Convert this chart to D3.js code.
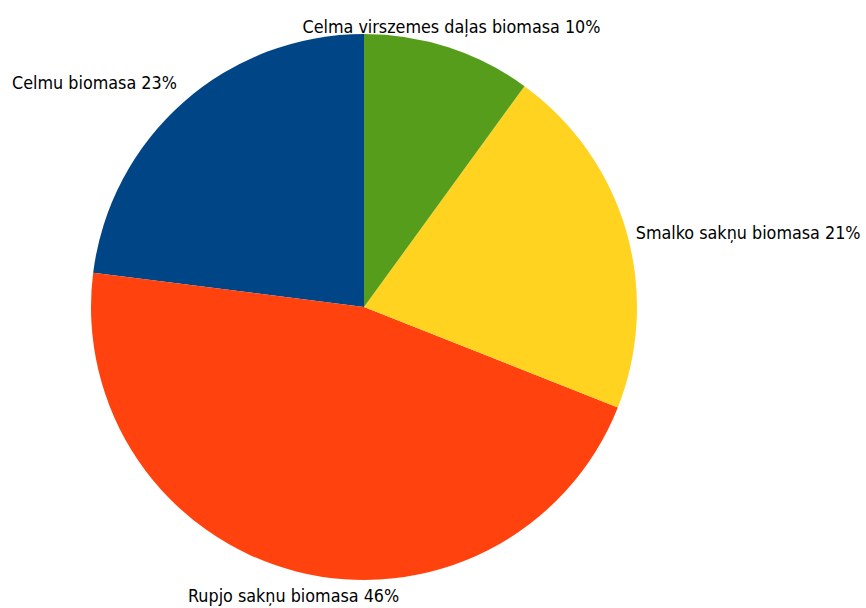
<!DOCTYPE html>
<html>
<head>
<meta charset="utf-8">
<script src="https://cdn.jsdelivr.net/npm/d3@7"></script>
<style>
  html, body { margin: 0; padding: 0; background: #fff; }
  svg text { font-family: "Liberation Sans Narrow", "DejaVu Sans Condensed", sans-serif; font-size: 17.8px; fill: #000; }
</style>
</head>
<body>
<svg id="chart" width="866" height="608"></svg>
<script>
// Biomass shares, in drawing order (counter-clockwise from 12 o'clock)
const categories = ["Celmu biomasa", "Rupjo sakņu biomasa", "Smalko sakņu biomasa", "Celma virszemes daļas biomasa"];
const values = [23, 46, 21, 10];
const colors = ["#004586", "#ff420e", "#ffd320", "#579d1c"];

const svg = d3.select("#chart");
const cx = 364, cy = 307, radius = 273;
const g = svg.append("g").attr("transform", `translate(${cx},${cy})`);

// Negative angles sweep the slices counter-clockwise
const pie = d3.pie().sort(null).value(d => d.value)
  .startAngle(0).endAngle(-2 * Math.PI);
const data = categories.map((c, i) => ({ name: c, value: values[i], color: colors[i] }));
const arcs = pie(data);

const arc = d3.arc().innerRadius(0).outerRadius(radius);
g.selectAll("path.slice").data(arcs).enter().append("path")
  .attr("class", "slice")
  .attr("d", arc)
  .attr("fill", d => d.data.color);

// Labels sit just outside the rim, aligned away from the centre
const total = d3.sum(values);
const labelR = radius + 10;
g.selectAll("text.lbl").data(arcs).enter().append("text")
  .attr("class", "lbl")
  .each(function (d) {
    const a = (d.startAngle + d.endAngle) / 2;
    const sx = Math.sin(a), sy = -Math.cos(a);
    const x = labelR * sx, y = labelR * sy;
    const anchor = sx > 0.35 ? "start" : sx < -0.35 ? "end" : "middle";
    let dy;
    if (Math.abs(sy) < 0.35) dy = "0.6em";
    else if (sy < 0) dy = "-0.3em";
    else dy = "1.2em";
    d3.select(this)
      .attr("x", x).attr("y", y)
      .attr("text-anchor", anchor)
      .attr("dy", dy)
      .text(`${d.data.name} ${Math.round(d.data.value / total * 100)}%`);
  });
</script>
</body>
</html>
